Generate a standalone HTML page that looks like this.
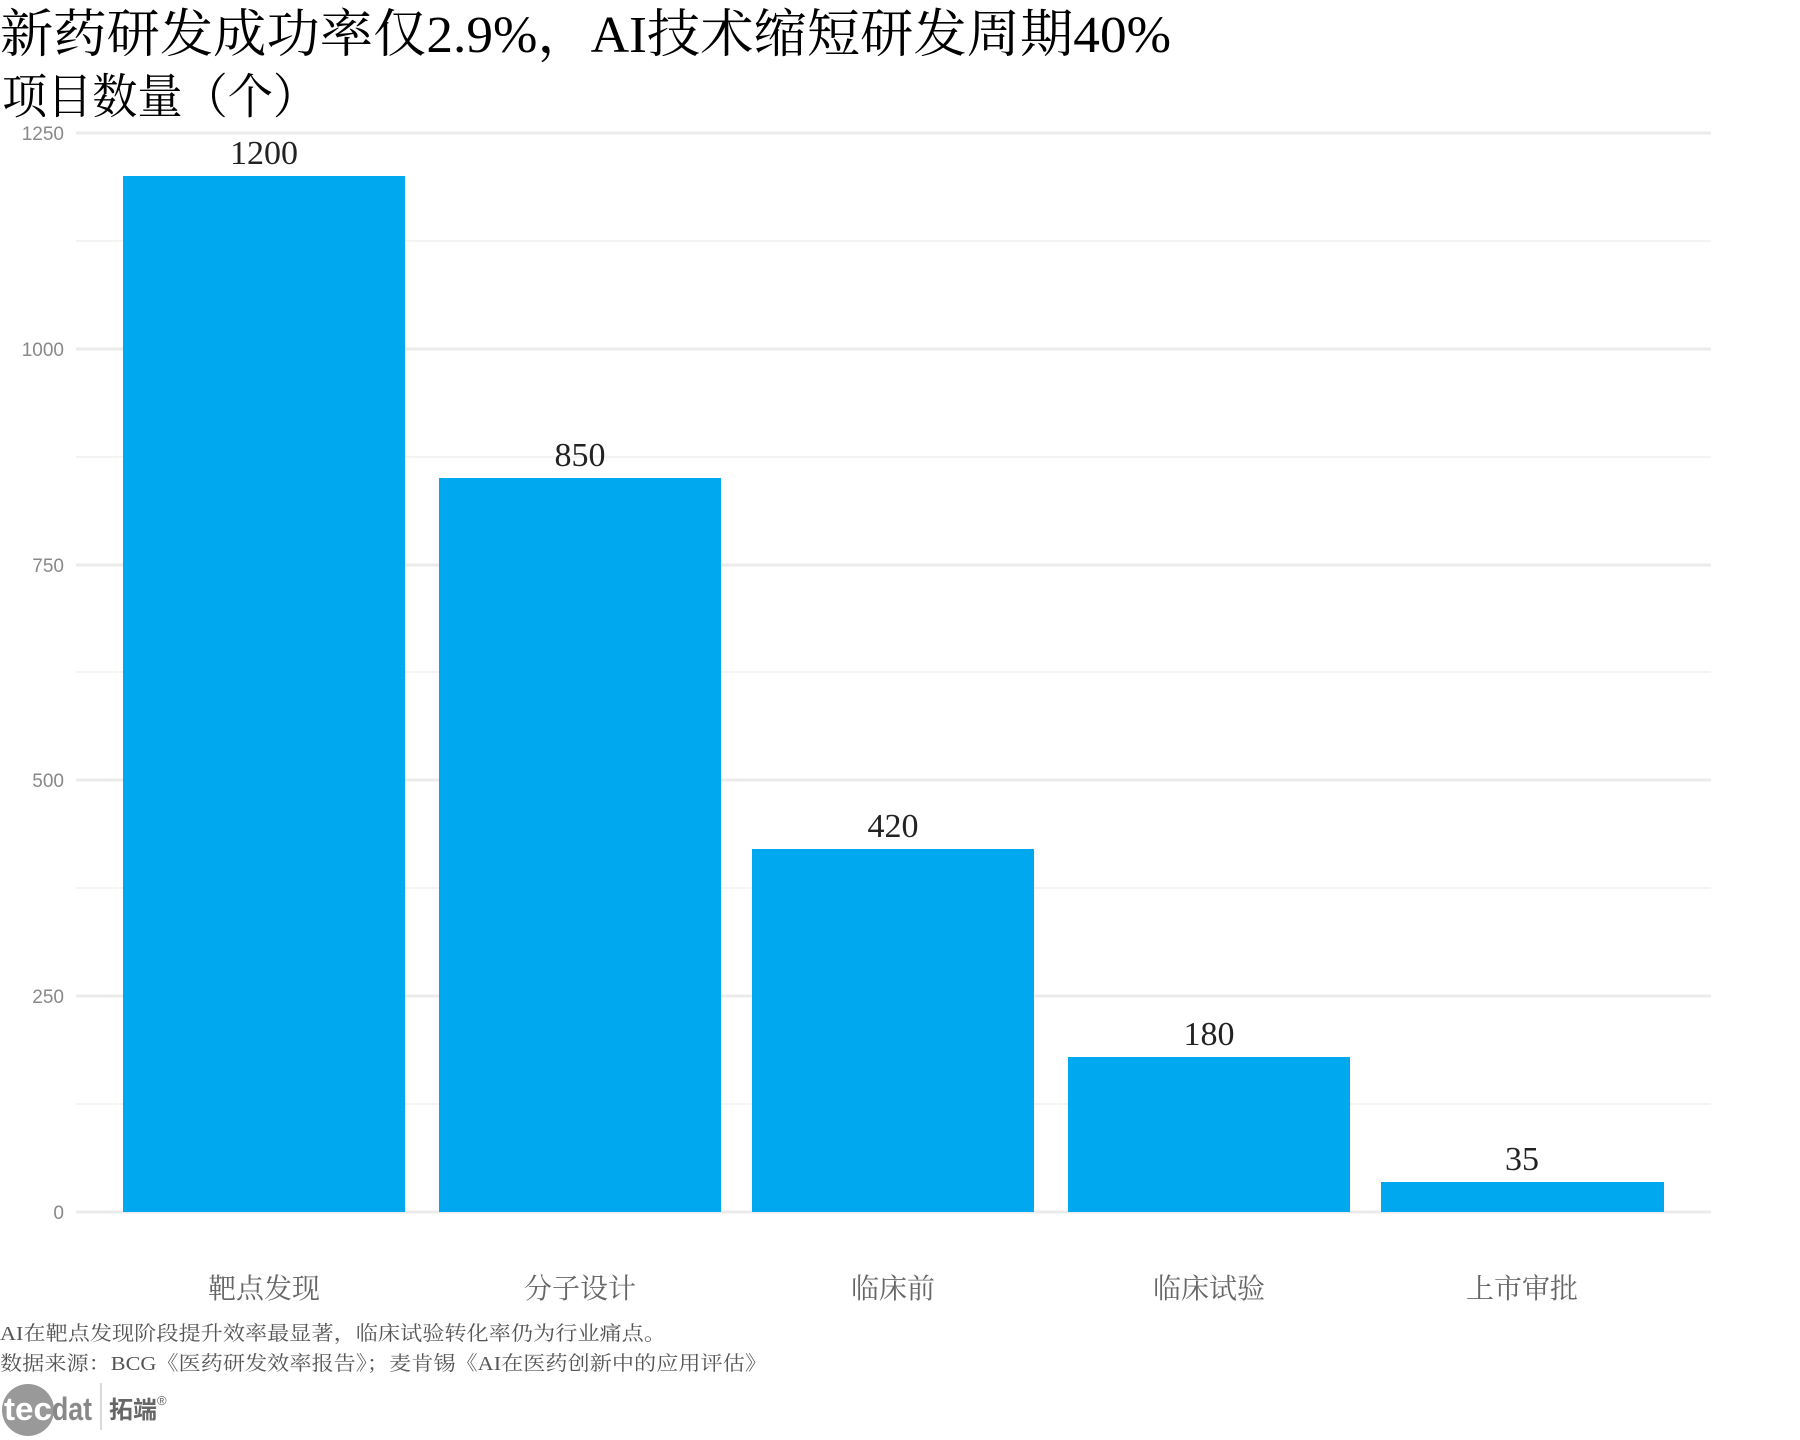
<!DOCTYPE html>
<html><head><meta charset="utf-8"><style>
html,body{margin:0;padding:0;background:#fff;}
svg{display:block;}
</style></head><body>
<svg width="1800" height="1440" viewBox="0 0 1800 1440" xmlns="http://www.w3.org/2000/svg">
<rect width="1800" height="1440" fill="#fff"/>
<text x="0" y="52" font-family="'Liberation Serif','Noto Serif CJK SC',serif" font-size="52" fill="#000" textLength="1171" lengthAdjust="spacingAndGlyphs">新药研发成功率仅2.9%，AI技术缩短研发周期40%</text>
<text x="2" y="113" font-family="'Liberation Serif','Noto Serif CJK SC',serif" font-size="48" fill="#000" textLength="316" lengthAdjust="spacingAndGlyphs">项目数量（个）</text>
<g stroke="#f0f0f0" stroke-width="1.5">
<line x1="76" y1="241" x2="1711" y2="241"/>
<line x1="76" y1="457" x2="1711" y2="457"/>
<line x1="76" y1="672" x2="1711" y2="672"/>
<line x1="76" y1="888" x2="1711" y2="888"/>
<line x1="76" y1="1104" x2="1711" y2="1104"/>
</g>
<g stroke="#ebebeb" stroke-width="3">
<line x1="76" y1="133" x2="1711" y2="133"/>
<line x1="76" y1="349" x2="1711" y2="349"/>
<line x1="76" y1="565" x2="1711" y2="565"/>
<line x1="76" y1="780" x2="1711" y2="780"/>
<line x1="76" y1="996" x2="1711" y2="996"/>
<line x1="76" y1="1212" x2="1711" y2="1212"/>
</g>
<g font-family="'Liberation Sans',sans-serif" font-size="19" fill="#888" text-anchor="end">
<text x="64" y="140">1250</text>
<text x="64" y="356">1000</text>
<text x="64" y="572">750</text>
<text x="64" y="787">500</text>
<text x="64" y="1003">250</text>
<text x="64" y="1219">0</text>
</g>
<g fill="#00A8F0">
<rect x="123" y="176" width="282" height="1036"/>
<rect x="439" y="478" width="282" height="734"/>
<rect x="752" y="849" width="282" height="363"/>
<rect x="1068" y="1057" width="282" height="155"/>
<rect x="1381" y="1182" width="283" height="30"/>
</g>
<g font-family="'Liberation Serif',serif" font-size="34" fill="#222" text-anchor="middle">
<text x="264" y="164">1200</text>
<text x="580" y="466">850</text>
<text x="893" y="837">420</text>
<text x="1209" y="1045">180</text>
<text x="1522" y="1170">35</text>
</g>
<g font-family="'Liberation Serif','Noto Serif CJK SC',serif" font-size="28" fill="#666" text-anchor="middle">
<text x="264" y="1298">靶点发现</text>
<text x="580" y="1298">分子设计</text>
<text x="893" y="1298">临床前</text>
<text x="1209" y="1298">临床试验</text>
<text x="1522" y="1298">上市审批</text>
</g>
<g font-family="'Liberation Serif','Noto Serif CJK SC',serif" font-size="20" fill="#555">
<text x="0" y="1340" textLength="666" lengthAdjust="spacingAndGlyphs">AI在靶点发现阶段提升效率最显著，临床试验转化率仍为行业痛点。</text>
<text x="0" y="1370" textLength="767" lengthAdjust="spacingAndGlyphs">数据来源：BCG《医药研发效率报告》；麦肯锡《AI在医药创新中的应用评估》</text>
</g>
<circle cx="28" cy="1410" r="26" fill="#999"/>
<text x="4" y="1420" font-family="'Liberation Sans',sans-serif" font-weight="bold" font-size="32" fill="#fff" textLength="48" lengthAdjust="spacingAndGlyphs">tec</text>
<text x="52" y="1420" font-family="'Liberation Sans',sans-serif" font-weight="bold" font-size="32" fill="#888" textLength="40" lengthAdjust="spacingAndGlyphs">dat</text>
<line x1="101" y1="1383" x2="101" y2="1430" stroke="#ccc" stroke-width="1.5"/>
<text x="109" y="1418" font-family="'Noto Sans CJK SC',sans-serif" font-weight="bold" font-size="24" fill="#666">拓端</text>
<text x="157" y="1405" font-family="'Liberation Sans',sans-serif" font-size="13" fill="#666">®</text>
</svg>
</body></html>
